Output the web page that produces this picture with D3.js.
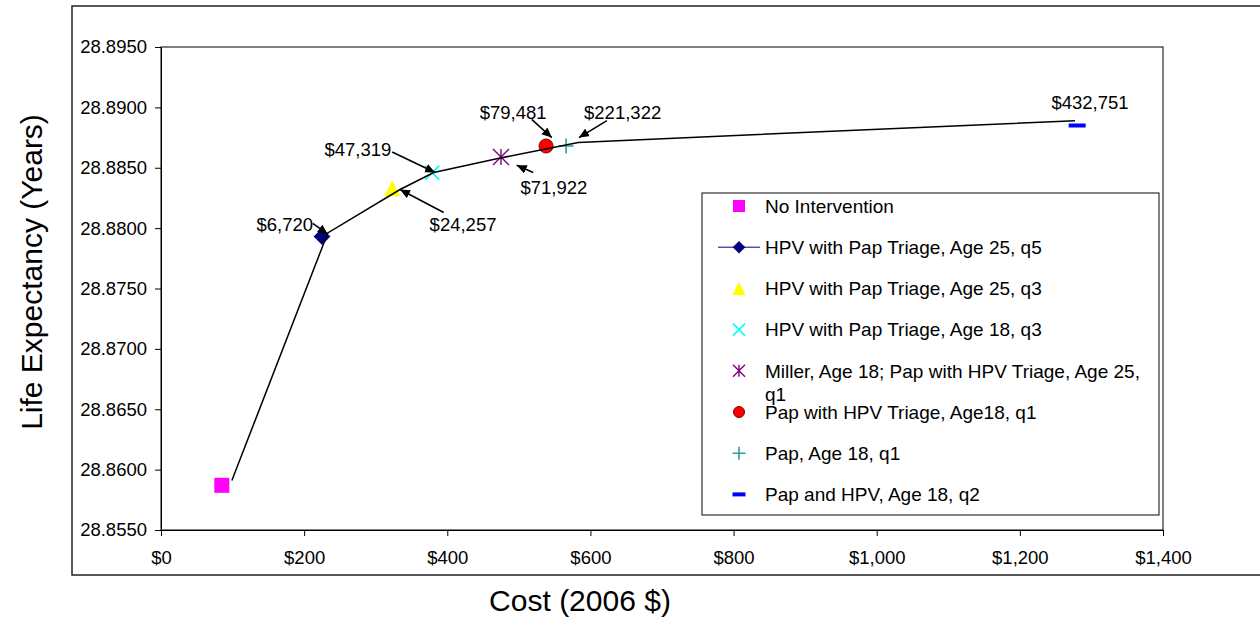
<!DOCTYPE html>
<html>
<head>
<meta charset="utf-8">
<script src="https://cdn.jsdelivr.net/npm/d3@7"></script>
<style>
  html, body { margin: 0; padding: 0; background: #fff; }
  svg { display: block; font-family: "Liberation Sans", Arial, sans-serif; }
</style>
</head>
<body>
<svg id="chart" width="1260" height="624"></svg>
<script>
// ---------------- DATA ----------------
const seriesNames = [
  "No Intervention",
  "HPV with Pap Triage, Age 25, q5",
  "HPV with Pap Triage, Age 25, q3",
  "HPV with Pap Triage, Age 18, q3",
  "Miller, Age 18; Pap with HPV Triage, Age 25, q1",
  "Pap with HPV Triage, Age18, q1",
  "Pap, Age 18, q1",
  "Pap and HPV, Age 18, q2"
];
const seriesCost = [85, 225, 323, 379, 475, 538, 566, 1280];
const seriesLE   = [28.8587, 28.8793, 28.8833, 28.8846, 28.8859, 28.8868, 28.8868, 28.8885];

// efficient frontier line
const frontierCost = [99, 233, 334, 381, 474, 583, 1277];
const frontierLE   = [28.8591, 28.8796, 28.8832, 28.8846, 28.8858, 28.8871, 28.8889];

// ICER annotations
const annoLabels   = ["$6,720", "$24,257", "$47,319", "$71,922", "$79,481", "$221,322", "$432,751"];
const annoTextCost = [173, 422, 275, 549, 492, 645, 1298];
const annoTextLE   = [28.8803, 28.8803, 28.8865, 28.8834, 28.8896, 28.8896, 28.8904];
const annoFromCost = [212, 395, 323, 520, 518, 623, null];
const annoFromLE   = [28.8804, 28.8813, 28.8863, 28.8846, 28.8890, 28.8889, null];
const annoToCost   = [233, 334, 383, 497, 546, 584, null];
const annoToLE     = [28.8795, 28.8832, 28.8846, 28.8852, 28.8875, 28.8875, null];

const xTicks = [0, 200, 400, 600, 800, 1000, 1200, 1400];
const yTicks = [28.855, 28.860, 28.865, 28.870, 28.875, 28.880, 28.885, 28.890, 28.895];

const xTitle = "Cost (2006 $)";
const yTitle = "Life Expectancy (Years)";

// ---------------- STYLE ----------------
const markerStyle = [
  { shape: "square",   fill: "#FF00FF", stroke: "none" },
  { shape: "diamond",  fill: "#000080", stroke: "none" },
  { shape: "triangle", fill: "#FFFF00", stroke: "none" },
  { shape: "x",        fill: "none",    stroke: "#00FFFF" },
  { shape: "star",     fill: "none",    stroke: "#800080" },
  { shape: "circle",   fill: "#FF0000", stroke: "#800000" },
  { shape: "plus",     fill: "none",    stroke: "#339999" },
  { shape: "dash",     fill: "#0000FF", stroke: "none" }
];

const svg = d3.select("#chart");
const plot = { left: 161, right: 1163, top: 47, bottom: 530 };

const x = d3.scaleLinear().domain([0, 1400]).range([plot.left, plot.right]);
const y = d3.scaleLinear().domain([28.855, 28.895]).range([plot.bottom, plot.top]);

// outer chart frame
svg.append("rect")
  .attr("x", 72).attr("y", 6).attr("width", 1200).attr("height", 569)
  .attr("fill", "none").attr("stroke", "#222").attr("stroke-width", 1.5);

// plot area border
svg.append("rect")
  .attr("x", plot.left).attr("y", plot.top)
  .attr("width", plot.right - plot.left).attr("height", plot.bottom - plot.top)
  .attr("fill", "none").attr("stroke", "#000").attr("stroke-width", 1);

// axes
const fmtCost = d => "$" + d3.format(",")(d);
const xAxis = svg.append("g")
  .attr("transform", `translate(0,${plot.bottom})`)
  .call(d3.axisBottom(x).tickValues(xTicks).tickFormat(fmtCost).tickSize(6).tickSizeOuter(0).tickPadding(15));
const yAxis = svg.append("g")
  .attr("transform", `translate(${plot.left},0)`)
  .call(d3.axisLeft(y).tickValues(yTicks).tickFormat(d3.format(".4f")).tickSize(6).tickSizeOuter(0).tickPadding(8));
[xAxis, yAxis].forEach(g => {
  g.selectAll("text").attr("font-size", 18.5).attr("fill", "#000").attr("font-family", "Liberation Sans, Arial, sans-serif");
  g.selectAll("line").attr("stroke", "#000");
  g.select(".domain").attr("stroke", "#000");
});

// axis titles
svg.append("text")
  .attr("x", 580).attr("y", 611)
  .attr("text-anchor", "middle").attr("font-size", 30).attr("fill", "#000")
  .text(xTitle);
svg.append("text")
  .attr("transform", `translate(42,${272}) rotate(-90)`)
  .attr("text-anchor", "middle").attr("font-size", 30).attr("fill", "#000")
  .text(yTitle);

// marker drawing
function drawMarker(g, cx, cy, st, s) {
  const h = s / 2;
  switch (st.shape) {
    case "square":
      g.append("rect").attr("x", cx - h).attr("y", cy - h).attr("width", s).attr("height", s).attr("fill", st.fill);
      break;
    case "diamond":
      g.append("path").attr("d", `M${cx},${cy - h * 1.05}L${cx + h * 1.05},${cy}L${cx},${cy + h * 1.05}L${cx - h * 1.05},${cy}Z`).attr("fill", st.fill);
      break;
    case "triangle":
      g.append("path").attr("d", `M${cx},${cy - h}L${cx + h},${cy + h}L${cx - h},${cy + h}Z`).attr("fill", st.fill);
      break;
    case "x":
      g.append("path").attr("d", `M${cx - h},${cy - h}L${cx + h},${cy + h}M${cx + h},${cy - h}L${cx - h},${cy + h}`)
        .attr("stroke", st.stroke).attr("stroke-width", 1.6).attr("fill", "none");
      break;
    case "star":
      g.append("path").attr("d", `M${cx - h},${cy - h}L${cx + h},${cy + h}M${cx + h},${cy - h}L${cx - h},${cy + h}M${cx},${cy - h}L${cx},${cy + h}`)
        .attr("stroke", st.stroke).attr("stroke-width", 1.4).attr("fill", "none");
      break;
    case "circle":
      g.append("circle").attr("cx", cx).attr("cy", cy).attr("r", h).attr("fill", st.fill).attr("stroke", st.stroke).attr("stroke-width", 1);
      break;
    case "plus":
      g.append("path").attr("d", `M${cx - h},${cy}L${cx + h},${cy}M${cx},${cy - h}L${cx},${cy + h}`)
        .attr("stroke", st.stroke).attr("stroke-width", 1.6).attr("fill", "none");
      break;
    case "dash":
      g.append("rect").attr("x", cx - h).attr("y", cy - 2).attr("width", s).attr("height", 4).attr("fill", st.fill);
      break;
  }
}

// data markers
const markG = svg.append("g");
const markSizes = [15, 16, 16, 14, 16, 14, 15, 17];
seriesCost.forEach((c, i) => drawMarker(markG, x(c), y(seriesLE[i]), markerStyle[i], markSizes[i]));

// frontier line
const line = d3.line().x(d => x(d[0])).y(d => y(d[1]));
svg.append("path")
  .datum(frontierCost.map((c, i) => [c, frontierLE[i]]))
  .attr("d", line).attr("fill", "none").attr("stroke", "#000").attr("stroke-width", 1.5);

// arrowhead
svg.append("defs").append("marker")
  .attr("id", "arrow").attr("markerUnits", "userSpaceOnUse")
  .attr("markerWidth", 12).attr("markerHeight", 10)
  .attr("refX", 10).attr("refY", 4.5).attr("orient", "auto")
  .append("path").attr("d", "M0,0L10,4.5L0,9Z").attr("fill", "#000");

// annotations
const annoG = svg.append("g");
annoLabels.forEach((lab, i) => {
  annoG.append("text")
    .attr("x", x(annoTextCost[i])).attr("y", y(annoTextLE[i]))
    .attr("dy", "0.36em").attr("text-anchor", "middle")
    .attr("font-size", 18.5).attr("fill", "#000").text(lab);
  if (annoFromCost[i] !== null) {
    annoG.append("line")
      .attr("x1", x(annoFromCost[i])).attr("y1", y(annoFromLE[i]))
      .attr("x2", x(annoToCost[i])).attr("y2", y(annoToLE[i]))
      .attr("stroke", "#000").attr("stroke-width", 1.6)
      .attr("marker-end", "url(#arrow)");
  }
});

// legend
const leg = { x: 702, y: 193, w: 457, h: 322 };
const legG = svg.append("g");
legG.append("rect")
  .attr("x", leg.x).attr("y", leg.y).attr("width", leg.w).attr("height", leg.h)
  .attr("fill", "#fff").attr("stroke", "#333").attr("stroke-width", 1.2);
const legSizes = [12, 12, 13, 12, 12, 11, 13, 13];
seriesNames.forEach((name, i) => {
  const cy = leg.y + 13 + i * 41.2;
  const mx = leg.x + 37;
  if (i === 1) {
    legG.append("line").attr("x1", leg.x + 16).attr("x2", leg.x + 58)
      .attr("y1", cy).attr("y2", cy).attr("stroke", "#000080").attr("stroke-width", 1);
  }
  drawMarker(legG, mx, cy, markerStyle[i], legSizes[i]);
  const t = legG.append("text")
    .attr("x", leg.x + 63).attr("y", cy).attr("dy", "0.36em")
    .attr("font-size", 19).attr("fill", "#000");
  if (name.length > 40) {
    const cut = name.lastIndexOf(" ");
    t.append("tspan").attr("x", leg.x + 63).text(name.slice(0, cut));
    t.append("tspan").attr("x", leg.x + 63).attr("dy", 23).text(name.slice(cut + 1));
  } else {
    t.text(name);
  }
});
</script>
</body>
</html>
